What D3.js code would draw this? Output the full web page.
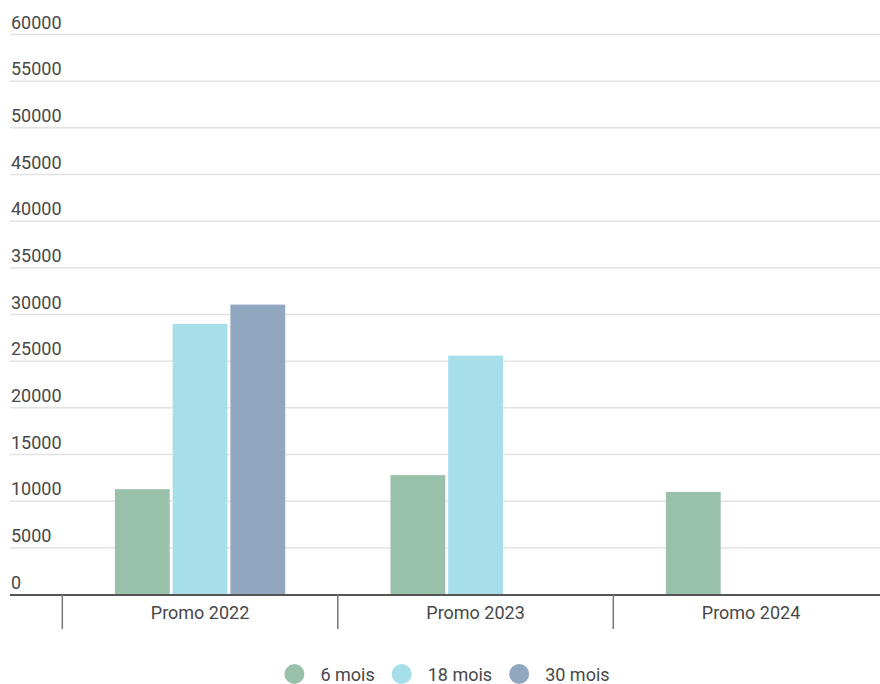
<!DOCTYPE html>
<html>
<head>
<meta charset="utf-8">
<script src="https://cdn.jsdelivr.net/npm/d3@7"></script>
<style>
  html, body { margin: 0; padding: 0; background: #fff; }
  svg { display: block; font-family: Roboto, "Noto Sans", sans-serif; }
</style>
</head>
<body>
<svg id="chart" width="880" height="684"></svg>
<script>
const categories = ["Promo 2022", "Promo 2023", "Promo 2024"];
const seriesNames = ["6 mois", "18 mois", "30 mois"];
const seriesColors = ["#99c1a9", "#a6dfea", "#91a6bf"];
const values6 = [11300, 12800, 11000];
const values18 = [29000, 25600, null];
const values30 = [31070, null, null];
const yTicks = [0, 5000, 10000, 15000, 20000, 25000, 30000, 35000, 40000, 45000, 50000, 55000, 60000];

const seriesValues = [values6, values18, values30];
const data = categories.map((c, i) => ({
  cat: c,
  vals: seriesNames.map((s, j) => ({ key: s, color: seriesColors[j], value: seriesValues[j][i] }))
}));

const svg = d3.select("#chart");
const W = 880;
const baseY = 594.5, topY = 34.5;
const gridLeft = 10;
const textColor = "#484848";
const fs = 18;

const y = d3.scaleLinear().domain([0, 60000]).range([baseY, topY]);
const x0 = d3.scaleBand().domain(categories).range([62.3, 62.3 + 3 * 275.5]).paddingInner(0).paddingOuter(0);
const groupW = 170.4;
const x1 = d3.scaleBand().domain(seriesNames).range([0, groupW]).paddingInner(0.047).paddingOuter(0);

// gridlines
svg.append("g").selectAll("line").data(yTicks.filter(t => t > 0)).join("line")
  .attr("x1", gridLeft).attr("x2", W)
  .attr("y1", d => y(d)).attr("y2", d => y(d))
  .attr("stroke", "#e2e2e2").attr("stroke-width", 1.5);

// y labels
svg.append("g").selectAll("text").data(yTicks).join("text")
  .attr("x", 11).attr("y", d => y(d) - 6)
  .attr("fill", textColor).attr("font-size", fs)
  .text(d => d);

// bars
const groups = svg.append("g").selectAll("g").data(data).join("g")
  .attr("transform", d => `translate(${x0(d.cat) + (x0.bandwidth() - groupW) / 2},0)`);
groups.selectAll("rect").data(d => d.vals.filter(v => v.value != null)).join("rect")
  .attr("x", d => x1(d.key))
  .attr("width", x1.bandwidth())
  .attr("y", d => y(d.value))
  .attr("height", d => baseY - y(d.value))
  .attr("fill", d => d.color)
  .attr("stroke", "#fff").attr("stroke-opacity", 0.4).attr("stroke-width", 0.5);

// x axis
const xAxis = svg.append("g");
xAxis.append("line").attr("x1", gridLeft).attr("x2", W).attr("y1", baseY + 0.5).attr("y2", baseY + 0.5)
  .attr("stroke", "#555").attr("stroke-width", 2);
xAxis.selectAll("line.tick").data(categories).join("line").attr("class", "tick")
  .attr("x1", d => x0(d)).attr("x2", d => x0(d))
  .attr("y1", baseY).attr("y2", 629)
  .attr("stroke", "#777").attr("stroke-width", 1.5);
xAxis.selectAll("text").data(categories).join("text")
  .attr("x", d => x0(d) + x0.bandwidth() / 2)
  .attr("y", 618.5)
  .attr("text-anchor", "middle")
  .attr("fill", textColor).attr("font-size", fs)
  .text(d => d);

// legend
const legend = svg.append("g");
const items = legend.selectAll("g").data(seriesNames).join("g");
items.append("circle").attr("r", 10).attr("cy", 674).attr("fill", (d, i) => seriesColors[i]);
items.append("text").attr("y", 680.5).attr("fill", textColor).attr("font-size", fs).text(d => d);
let cx = 0;
const pos = [];
items.each(function(d, i) {
  const tw = d3.select(this).select("text").node().getComputedTextLength();
  pos.push(cx);
  cx += 26 + tw + 27;
});
const totalW = cx - 27 + 10;
const startX = 447 - totalW / 2;
items.each(function(d, i) {
  const cc = startX + 10 + pos[i];
  d3.select(this).select("circle").attr("cx", cc);
  d3.select(this).select("text").attr("x", cc + 26);
});
</script>
</body>
</html>
